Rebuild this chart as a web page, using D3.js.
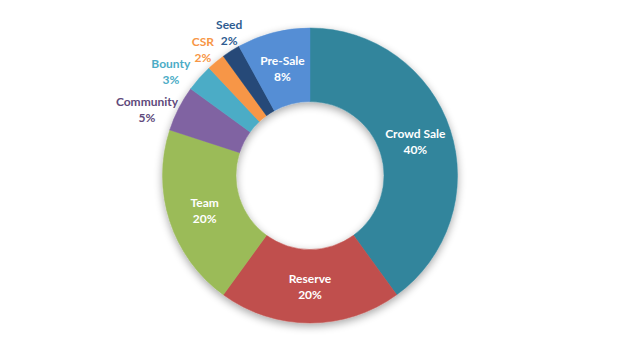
<!DOCTYPE html>
<html><head><meta charset="utf-8">
<script src="https://cdn.jsdelivr.net/npm/d3@7"></script>
<style>
html,body{margin:0;padding:0;background:#fff;}
svg{display:block;}
text{font-family:Lato,"Open Sans",sans-serif;font-weight:bold;font-size:12px;}
</style></head><body>
<svg id="chart" width="624" height="346"></svg>
<script>
const categories = ["Crowd Sale","Reserve","Team","Community","Bounty","CSR","Seed","Pre-Sale"];
const values = [40,20,20,5,3,2,2,8];
const sliceColors = ["#31859C","#C0504D","#9BBB59","#8064A2","#4BACC6","#F79646","#264A78","#558ED5"];
const labelColors = ["#ffffff","#ffffff","#ffffff","#604A7B","#4BACC6","#F79646","#2E5C91","#ffffff"];
const outside = [false,false,false,true,true,true,true,false];

const W=624,H=346, cx=310, cy=175.5, R=147.5, r0=74;
// nudges for outside labels (Excel's spread layout)
const labelNudge = {"Community":[-12,10.5],"Bounty":[-12,8],"CSR":[1,4.5],"Seed":[10,0]};

const svg=d3.select("#chart");
const defs=svg.append("defs");
const f=defs.append("filter").attr("id","sh").attr("x","-20%").attr("y","-20%").attr("width","140%").attr("height","140%");
f.append("feGaussianBlur").attr("in","SourceAlpha").attr("stdDeviation",4).attr("result","b");
f.append("feOffset").attr("in","b").attr("dx",0).attr("dy",3).attr("result","o");
f.append("feComponentTransfer").attr("in","o").attr("result","t").append("feFuncA").attr("type","linear").attr("slope",0.35);
const m=f.append("feMerge"); m.append("feMergeNode").attr("in","t"); m.append("feMergeNode").attr("in","SourceGraphic");

const data=categories.map((c,i)=>({name:c,value:values[i],color:sliceColors[i],lc:labelColors[i],out:outside[i]}));
const pie=d3.pie().value(d=>d.value).sort(null);
const arcs=pie(data);
const arc=d3.arc().innerRadius(r0).outerRadius(R);
const midArc=d3.arc().innerRadius((r0+R)/2).outerRadius((r0+R)/2);
const outArc=d3.arc().innerRadius(R+22).outerRadius(R+22);

const g=svg.append("g").attr("transform",`translate(${cx},${cy})`);
g.append("g").attr("filter","url(#sh)").selectAll("path").data(arcs).join("path")
 .attr("d",arc).attr("fill",d=>d.data.color).attr("stroke",d=>d.data.color).attr("stroke-width",0.5);

const lab=g.append("g").selectAll("text").data(arcs).join("text")
 .attr("text-anchor","middle").attr("fill",d=>d.data.lc)
 .attr("transform",d=>{
   let p;
   if(d.data.out){ p=outArc.centroid(d); const n=labelNudge[d.data.name]||[0,0]; p=[p[0]+n[0],p[1]+n[1]]; }
   else p=midArc.centroid(d);
   return `translate(${p[0]},${p[1]})`;
 });
lab.append("tspan").attr("x",0).attr("y",-3).text(d=>d.data.name);
lab.append("tspan").attr("x",0).attr("y",13).text(d=>d.data.value+"%");
</script>
</body></html>
